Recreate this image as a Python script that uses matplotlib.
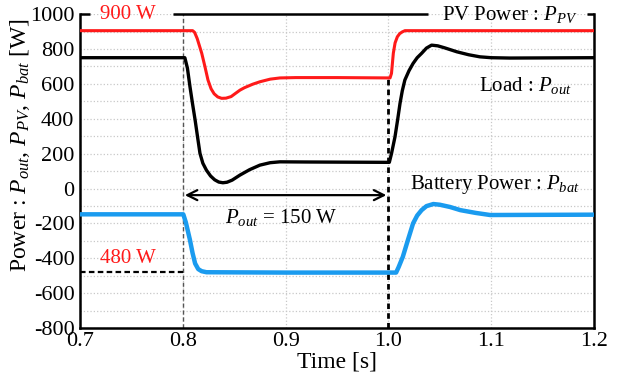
import matplotlib
matplotlib.use('Agg')
import matplotlib.pyplot as plt

plt.rcParams['font.family'] = ['Liberation Serif', 'DejaVu Serif']
plt.rcParams['mathtext.fontset'] = 'custom'
plt.rcParams['mathtext.rm'] = 'Liberation Serif'
plt.rcParams['mathtext.it'] = 'Liberation Serif:italic'
plt.rcParams['axes.unicode_minus'] = False

# PV power (red)
t_pv = [0.700, 0.8096, 0.8115, 0.8140, 0.8184, 0.8215, 0.8245, 0.8275, 0.8305,
        0.8340, 0.8378, 0.8420, 0.8470, 0.8500, 0.8556, 0.8600, 0.8680, 0.8750,
        0.8850, 0.8945, 0.9100, 0.9500, 1.0016, 1.0030, 1.0048, 1.0065, 1.0087,
        1.0110, 1.0135, 1.0161, 1.0300, 1.2000]
p_pv = [905, 905, 895, 860, 776, 700, 622, 572, 543,
        525, 517, 518, 527, 540, 564, 578, 598, 612,
        627, 634, 636, 636, 634, 660, 776, 835, 870,
        888, 898, 905, 905, 905]

# Load power (black)
t_out = [0.700, 0.8020, 0.8045, 0.8070, 0.8095, 0.8120, 0.8145, 0.8167, 0.8195,
         0.8230, 0.8270, 0.8310, 0.8350, 0.8390, 0.8430, 0.8480, 0.8556, 0.8650,
         0.8750, 0.8850, 0.8945, 0.9200, 1.0009, 1.0030, 1.0064, 1.0090, 1.0113,
         1.0135, 1.0160, 1.0200, 1.0240, 1.0280, 1.0323, 1.0370, 1.0420, 1.0480,
         1.0550, 1.0665, 1.0780, 1.0890, 1.1000, 1.1180, 1.2000]
p_out = [750, 750, 690, 583, 485, 392, 290, 202, 145,
         105, 72, 50, 37, 33, 36, 48, 77, 108,
         134, 148, 153, 152, 150, 200, 296, 395, 488,
         560, 622, 675, 717, 750, 775, 805, 822, 818,
         806, 784, 767, 755, 750, 748, 750]

# Battery power (blue)
t_bat = [0.700, 0.8005, 0.8030, 0.8070, 0.8095, 0.8120, 0.8150, 0.8183, 0.8230,
         0.9000, 1.0075, 1.0100, 1.0140, 1.0190, 1.0240, 1.0280, 1.0323, 1.0370,
         1.0437, 1.0500, 1.0600, 1.0700, 1.0850, 1.0990, 1.2000]
p_bat = [-148, -148, -195, -296, -370, -430, -462, -474, -480,
         -482, -482, -450, -392, -295, -200, -155, -124, -101,
         -89, -93, -106, -124, -140, -152, -150]

C_PV = '#ff1a1a'; C_BAT = '#1a9bef'

fig = plt.figure(figsize=(6.22, 3.81), dpi=100)
ax = fig.add_axes([0.1286, 0.139, 0.8264, 0.824])

ax.set_xlim(0.7, 1.2)
ax.set_ylim(-800, 1000)
ax.set_xticks([0.7, 0.8, 0.9, 1.0, 1.1, 1.2])
ax.set_xticklabels(['0.7', '0.8', '0.9', '1.0', '1.1', '1.2'])
ax.set_yticks(range(-800, 1001, 200))
ax.set_yticks(range(-800, 1001, 100), minor=True)
ax.tick_params(which='both', length=0, labelsize=16)
ax.tick_params(axis='x', pad=3)
ax.tick_params(axis='y', pad=4)

ax.grid(True, which='both', axis='y', color='#c8c8c8', ls=':', lw=0.9)
ax.grid(True, which='major', axis='x', color='#c8c8c8', ls=':', lw=0.9)

for s in ax.spines.values():
    s.set_linewidth(1.8)
ax.spines['top'].set_visible(False)
# top frame broken around the two labels
for x0, x1 in [(0.700, 0.7097), (0.7905, 1.0385), (1.1932, 1.200)]:
    ax.plot([x0, x1], [1000, 1000], color='black', lw=1.8, clip_on=False,
            solid_capstyle='butt', zorder=5)

# event markers
ax.axvline(0.8, color='#555555', ls=(0, (3, 2)), lw=1.0, zorder=2)
ax.plot([1.0, 1.0], [-800, 634], color='black', ls=(0, (2, 1.5)), lw=2.0, zorder=2)
ax.plot([0.7, 0.8], [-480, -480], color='black', ls=(0, (2.5, 1.5)), lw=1.6, zorder=2)

ax.plot(t_pv, p_pv, color=C_PV, lw=2.2, zorder=4)
ax.plot(t_out, p_out, color='black', lw=2.4, zorder=4)
ax.plot(t_bat, p_bat, color=C_BAT, lw=3.2, zorder=4)

ax.annotate('', xy=(0.802, -38), xytext=(0.998, -38),
            arrowprops=dict(arrowstyle='<->', lw=1.6, color='black',
                            mutation_scale=18, shrinkA=0, shrinkB=0))

ax.text(0.747, 1000, '900 W', color=C_PV, fontsize=15, ha='center', va='center',
        zorder=10, clip_on=False)
ax.text(1.1835, 1000, 'PV Power : $P_{PV}$', fontsize=15, ha='right', va='center',
        zorder=10, clip_on=False)
ax.text(1.1786, 590, 'Load : $P_{out}$', fontsize=15, ha='right', va='center', zorder=10)
ax.text(1.186, 25, 'Battery Power : $P_{bat}$', fontsize=15, ha='right', va='center', zorder=10)
ax.text(0.8955, -165, '$P_{out}$ = 150 W', fontsize=15, ha='center', va='center', zorder=10)
ax.text(0.747, -400, '480 W', color=C_PV, fontsize=15, ha='center', va='center', zorder=10)

ax.set_xlabel('Time [s]', fontsize=17, labelpad=0)
ax.set_ylabel('Power : $P_{out}$, $P_{PV}$, $P_{bat}$ [W]', fontsize=17)
ax.yaxis.set_label_coords(-0.093, 0.583)

fig.savefig('out.png', dpi=100)
